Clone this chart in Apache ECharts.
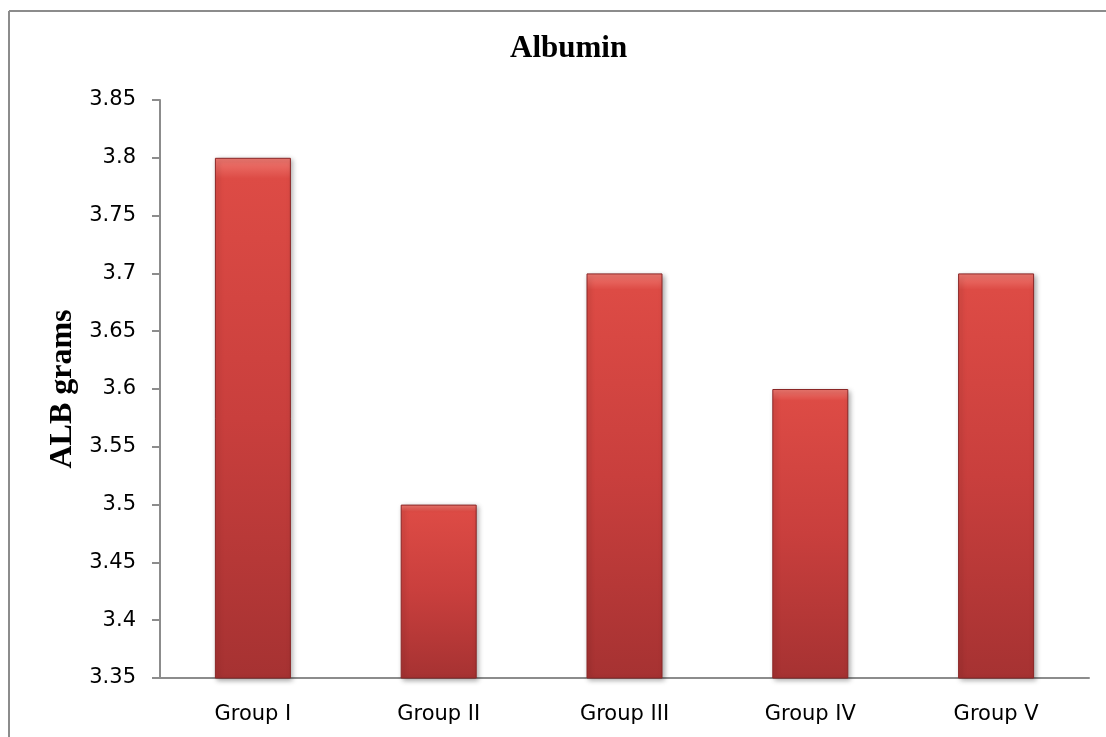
<!DOCTYPE html>
<html>
<head>
<meta charset="utf-8">
<script src="https://cdn.jsdelivr.net/npm/echarts@6/dist/echarts.min.js"></script>
<style>
html,body{margin:0;padding:0;background:#fff;}
#chart{width:1106px;height:737px;}
</style>
</head>
<body>
<div id="chart"></div>
<script>
const categories = ['Group I', 'Group II', 'Group III', 'Group IV', 'Group V'];
const albValues = [3.8, 3.5, 3.7, 3.6, 3.7];
const yMin = 3.35, yMax = 3.85, yStep = 0.05;
const titleText = 'Albumin';
const yAxisName = 'ALB grams';

const chart = echarts.init(document.getElementById('chart'));
const option = {
  backgroundColor: '#fff',
  animation: false,
  title: {
    text: titleText,
    left: 505,
    top: 28,
    textStyle: { fontFamily: 'Liberation Serif', fontWeight: 'bold', fontSize: 31, color: '#000' }
  },
  graphic: [
    { type: 'line', shape: { x1: 9, y1: 11, x2: 1106, y2: 11 }, style: { stroke: '#8c8c8c', lineWidth: 2 } },
    { type: 'line', shape: { x1: 9, y1: 11, x2: 9, y2: 737 }, style: { stroke: '#8c8c8c', lineWidth: 2 } }
  ],
  grid: { left: 160, top: 100, right: 17, bottom: 59 },
  xAxis: {
    type: 'category',
    data: categories,
    axisLine: { lineStyle: { color: '#8c8c8c', width: 2 } },
    axisTick: { show: false },
    axisLabel: { fontFamily: 'DejaVu Sans', fontSize: 21, color: '#000', margin: 26 }
  },
  yAxis: {
    type: 'value',
    min: yMin, max: yMax, interval: yStep,
    name: yAxisName,
    nameLocation: 'middle',
    nameGap: 80,
    nameTextStyle: { fontFamily: 'Liberation Serif', fontWeight: 'bold', fontSize: 32, color: '#000' },
    splitLine: { show: false },
    axisLine: { show: true, lineStyle: { color: '#8c8c8c', width: 2 } },
    axisTick: { show: true, length: 8, lineStyle: { color: '#8c8c8c', width: 2 } },
    axisLabel: {
      fontFamily: 'DejaVu Sans', fontSize: 21, color: '#000', margin: 24,
      formatter: v => String(parseFloat(v.toFixed(2)))
    }
  },
  series: [{
    type: 'bar',
    data: albValues,
    barWidth: 76,
    itemStyle: {
      color: {
        type: 'linear', x: 0, y: 0, x2: 0, y2: 1,
        colorStops: [
          { offset: 0, color: '#f07a72' },
          { offset: 0.04, color: '#dd4b45' },
          { offset: 0.5, color: '#c93f3d' },
          { offset: 1, color: '#a63232' }
        ]
      },
      borderColor: '#8a2626',
      borderWidth: 1,
      shadowColor: 'rgba(0,0,0,0.35)',
      shadowBlur: 5,
      shadowOffsetX: 2,
      shadowOffsetY: 2
    }
  }]
};
chart.setOption(option);
</script>
</body>
</html>
